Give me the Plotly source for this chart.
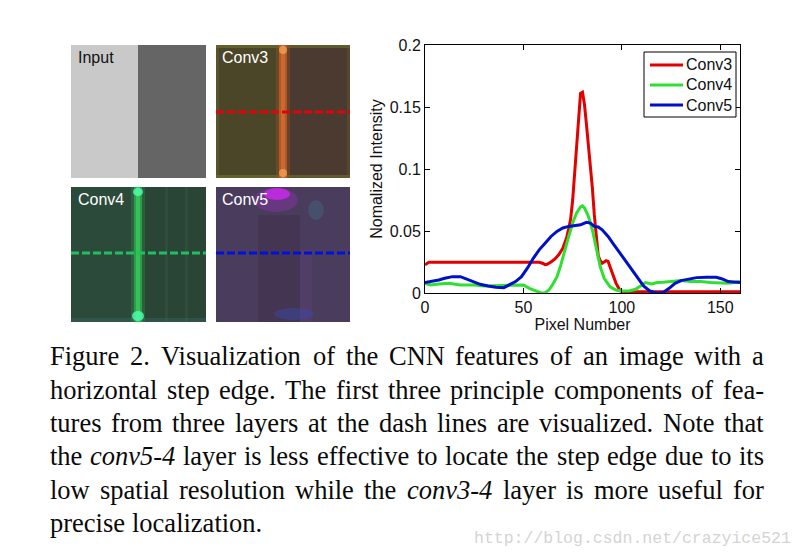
import plotly.graph_objects as go

W, H = 803, 560
OFF = 8  # page body margin

# ---------------- data ----------------
conv3_x = [0, 1, 2, 10, 20, 30, 40, 50, 55, 58, 60, 61, 62, 64, 66, 68, 70, 71, 72, 73, 74, 75, 76, 77, 78,
           79, 80, 81, 82, 83, 84, 85, 86, 87, 88, 89, 90, 91, 92, 93, 94, 95, 96, 97, 98, 99, 100,
           110, 120, 130, 140, 150, 160]
conv3_y = [0.0228, 0.024, 0.0248, 0.0248, 0.0248, 0.0248, 0.0248, 0.0248, 0.0248, 0.0248, 0.0238, 0.0228,
           0.0232, 0.025, 0.0275, 0.031, 0.036, 0.040, 0.045, 0.052, 0.060, 0.075, 0.098, 0.120, 0.145,
           0.161, 0.162, 0.152, 0.136, 0.120, 0.106, 0.085, 0.063, 0.043, 0.030, 0.026, 0.024, 0.025,
           0.026, 0.0255, 0.021, 0.016, 0.012, 0.008, 0.005, 0.002, 0.001,
           0.001, 0.001, 0.001, 0.001, 0.001, 0.001]

conv4_x = [0, 3, 7, 12, 18, 25, 30, 35, 40, 45, 50, 53, 56, 59, 61, 63, 65, 67, 69, 71, 73, 75, 77, 79,
           80, 81, 83, 85, 87, 89, 91, 94, 97, 100, 104, 107, 110, 112, 115, 118, 121, 125, 130, 135,
           140, 145, 150, 154, 157, 160]
conv4_y = [0.0078, 0.0065, 0.0073, 0.0078, 0.0065, 0.0065, 0.0057, 0.006, 0.006, 0.006, 0.0065, 0.0038,
           0.0016, 0.0, 0.0003, 0.0024, 0.0073, 0.013, 0.0227, 0.035, 0.0456, 0.0564, 0.0645, 0.0694,
           0.0702, 0.0686, 0.0618, 0.051, 0.035, 0.0213, 0.0119, 0.005, 0.0024, 0.0016, 0.0019, 0.003,
           0.0062, 0.0084, 0.0073, 0.0084, 0.0086, 0.0092, 0.010, 0.0092, 0.0092, 0.0084, 0.0078,
           0.0078, 0.0084, 0.0092]

conv5_x = [0, 3, 7, 10, 14, 18, 20, 24, 28, 32, 36, 40, 43, 46, 49, 52, 55, 58, 61, 64, 67, 70, 73, 76,
           79, 82, 84, 86, 88, 90, 93, 96, 99, 102, 105, 108, 111, 114, 117, 119, 121, 124, 127, 130,
           134, 138, 143, 148, 151, 154, 157, 160]
conv5_y = [0.0084, 0.0092, 0.0105, 0.0119, 0.0132, 0.0132, 0.0119, 0.0092, 0.007, 0.0057, 0.0046, 0.0043,
           0.0065, 0.0092, 0.0132, 0.020, 0.028, 0.0348, 0.0402, 0.0456, 0.0497, 0.0524, 0.0537, 0.0545,
           0.055, 0.057, 0.0564, 0.0537, 0.0532, 0.051, 0.0456, 0.0389, 0.0321, 0.0254, 0.0186, 0.0119,
           0.0057, 0.0019, 0.0, 0.0, 0.0005, 0.0038, 0.0078, 0.010, 0.0113, 0.0124, 0.0127, 0.0127,
           0.0113, 0.0092, 0.0088, 0.0084]

series_names = ["Conv3", "Conv4", "Conv5"]
series_colors = ["#e30000", "#30e030", "#0010c8"]

x_ticks = [0, 50, 100, 150]
y_ticks = [0, 0.05, 0.1, 0.15, 0.2]
y_tick_text = ["0", "0.05", "0.1", "0.15", "0.2"]

panel_labels = ["Input", "Conv3", "Conv4", "Conv5"]

caption_lines = [
    [("Figure", 0), ("2.", 0), ("Visualization", 0), ("of", 0), ("the", 0), ("CNN", 0), ("features", 0),
     ("of", 0), ("an", 0), ("image", 0), ("with", 0), ("a", 0)],
    [("horizontal", 0), ("step", 0), ("edge.", 0), ("The", 0), ("first", 0), ("three", 0), ("principle", 0),
     ("components", 0), ("of", 0), ("fea-", 0)],
    [("tures", 0), ("from", 0), ("three", 0), ("layers", 0), ("at", 0), ("the", 0), ("dash", 0), ("lines", 0),
     ("are", 0), ("visualized.", 0), ("Note", 0), ("that", 0)],
    [("the", 0), ("conv5-4", 1), ("layer", 0), ("is", 0), ("less", 0), ("effective", 0), ("to", 0),
     ("locate", 0), ("the", 0), ("step", 0), ("edge", 0), ("due", 0), ("to", 0), ("its", 0)],
    [("low", 0), ("spatial", 0), ("resolution", 0), ("while", 0), ("the", 0), ("conv3-4", 1), ("layer", 0),
     ("is", 0), ("more", 0), ("useful", 0), ("for", 0)],
    [("precise", 0), ("localization.", 0)],
]
watermark = "http://blog.csdn.net/crazyice521"

# ---------------- helpers (screen pixel -> paper) ----------------
def X(p):
    return (p - OFF) / W

def Y(p):
    return 1 - (p - OFF) / H

ROMAN = {' ': 250, '.': 250, ',': 250, '-': 333, '2': 500, '3': 500, '4': 500, '5': 500,
         'A': 722, 'C': 667, 'N': 722, 'F': 556, 'T': 611, 'V': 722,
         'a': 444, 'b': 500, 'c': 444, 'd': 500, 'e': 444, 'f': 333, 'g': 500, 'h': 500, 'i': 278,
         'j': 278, 'k': 500, 'l': 278, 'm': 778, 'n': 500, 'o': 500, 'p': 500, 'q': 500, 'r': 333,
         's': 389, 't': 278, 'u': 500, 'v': 500, 'w': 722, 'x': 500, 'y': 500, 'z': 444}
ITALIC = dict(ROMAN)
ITALIC.update({'a': 500, 'c': 444, 'f': 278, 'k': 444, 'm': 722, 'r': 389, 'v': 444, 'w': 667,
               'x': 444, 'y': 444, 'z': 389})

def word_width(w, italic, fs):
    table = ITALIC if italic else ROMAN
    return sum(table.get(ch, 500) for ch in w) / 1000.0 * fs

fig = go.Figure()

for xs, ys, name, col in zip([conv3_x, conv4_x, conv5_x], [conv3_y, conv4_y, conv5_y],
                             series_names, series_colors):
    fig.add_trace(go.Scatter(x=xs, y=ys, mode="lines", name=name, showlegend=False,
                             line=dict(color=col, width=3), hoverinfo="skip"))

shapes = []
annotations = []
SANS = "Liberation Sans, Arial"

def rect(x0, y0, x1, y1, color, opacity=1.0, layer="below", border=None):
    shapes.append(dict(type="rect", xref="paper", yref="paper", x0=X(x0), x1=X(x1), y0=Y(y1), y1=Y(y0),
                       fillcolor=color, opacity=opacity,
                       line=dict(width=1, color=border) if border else dict(width=0), layer=layer))

def ellipse(cx, cy, rx, ry, color, opacity=1.0):
    shapes.append(dict(type="circle", xref="paper", yref="paper", x0=X(cx - rx), x1=X(cx + rx),
                       y0=Y(cy + ry), y1=Y(cy - ry), fillcolor=color, opacity=opacity,
                       line=dict(width=0), layer="below"))

def hline(x0, x1, y, color, width=3, dashstyle="solid"):
    shapes.append(dict(type="line", xref="paper", yref="paper", x0=X(x0), x1=X(x1), y0=Y(y), y1=Y(y),
                       line=dict(color=color, width=width, dash=dashstyle), layer="above"))

def text(t, x, y, size, color, family=SANS, xanchor="left"):
    annotations.append(dict(text=t, x=X(x), y=Y(y), xref="paper", yref="paper", xanchor=xanchor,
                            yanchor="middle", showarrow=False,
                            font=dict(family=family, size=size, color=color)))

# Input panel
rect(71, 45, 138, 178, "#c9c9c9")
rect(138, 45, 206, 178, "#656565")

# Conv3 panel
rect(216, 45, 350, 178, "#4c4628")
rect(287, 45, 350, 178, "#4a3a2f")
rect(216, 45, 350, 48, "#7a7a30", 0.5)
rect(216, 175, 350, 178, "#7a7a30", 0.5)
rect(216, 45, 219, 178, "#6a6a30", 0.4)
rect(347, 45, 350, 178, "#6a5a30", 0.4)
rect(276, 45, 290, 178, "#9a5028", 0.4)
rect(279, 45, 287, 178, "#c0602a", 0.75)
rect(281, 45, 285, 178, "#d86a2e", 0.85)
ellipse(283, 50, 4, 4, "#f0a050", 0.8)
ellipse(283, 173, 4, 4, "#f0a050", 0.8)
hline(216, 350, 112, "#e8000a", 3, "8px,3px")

# Conv4 panel
rect(71, 187, 206, 322, "#2c4a3a")
rect(142, 187, 206, 322, "#2a4436")
rect(165, 187, 168, 322, "#33543f", 0.6)
rect(185, 187, 188, 322, "#33543f", 0.6)
rect(71, 318, 206, 322, "#3a6a6a", 0.4)
rect(131, 187, 145, 322, "#2a8a4a", 0.4)
rect(134, 187, 142, 322, "#2fb050", 0.75)
rect(136, 187, 140, 322, "#38c858", 0.85)
ellipse(138, 192, 5, 4, "#50ffb0", 0.8)
ellipse(138, 316, 6, 5, "#50ffb0", 0.8)
hline(71, 206, 253, "#20c060", 3, "8px,3px")

# Conv5 panel
rect(216, 187, 350, 322, "#4a3c5c")
rect(258, 215, 300, 322, "#38283c", 0.3)
rect(300, 250, 312, 322, "#6a3c8a", 0.25)
ellipse(276, 200, 22, 12, "#9a30c0", 0.35)
ellipse(277, 194, 13, 6, "#d028f0", 0.8)
ellipse(316, 210, 8, 10, "#3a8a9a", 0.25)
ellipse(294, 314, 20, 6, "#3a4ab0", 0.45)
hline(216, 350, 253, "#0010e0", 3, "8px,3px")

# Panel labels
for lab, (lx, ly), col in zip(panel_labels, [(76, 57), (220, 57), (76, 199), (220, 199)],
                              ["#111111", "white", "white", "white"]):
    text(lab, lx, ly, 16, col)

# Legend (drawn manually to match box size)
rect(644, 52, 736, 117, "white", 1.0, layer="above", border="black")
for i, (name, col) in enumerate(zip(series_names, series_colors)):
    yy = 65 + 20 * i
    hline(650, 683, yy, col, 3)
    text(name, 684, yy, 16, "#111111")

# Caption (justified)
FS = 26.5
left, right = 48, 762
baselines = [365, 398.3, 431.7, 465, 498.3, 531.6]
for i, (words, base) in enumerate(zip(caption_lines, baselines)):
    widths = [word_width(w, it, FS) for w, it in words]
    if i < len(caption_lines) - 1 and len(words) > 1:
        gap = (right - left - sum(widths)) / (len(words) - 1)
    else:
        gap = 0.25 * FS
    xpos = left
    for (w, it), wd in zip(words, widths):
        text("<i>%s</i>" % w if it else w, xpos, base - 0.33 * FS, FS, "#0a0a0a",
             family="Liberation Serif, Times New Roman")
        xpos += wd + gap

text(watermark, 472, 538, 16.5, "#d4d4d4", family="Liberation Mono, Courier New")

axis_font = dict(family=SANS, size=16, color="#111111")
fig.update_layout(
    width=W, height=H,
    margin=dict(l=0, r=0, t=0, b=0, autoexpand=False),
    paper_bgcolor="white", plot_bgcolor="white",
    shapes=shapes, annotations=annotations,
    showlegend=False,
    xaxis=dict(domain=[X(425), X(740)], range=[0, 160], tickvals=x_ticks,
               ticks="inside", ticklen=5, tickcolor="black", showline=True, linecolor="black",
               linewidth=1, mirror="ticks", showgrid=False, zeroline=False, tickfont=axis_font,
               title=dict(text="Pixel Number", standoff=1, font=axis_font)),
    yaxis=dict(domain=[Y(293), Y(45)], range=[0, 0.2], tickvals=y_ticks, ticktext=y_tick_text,
               ticks="inside", ticklen=5, tickcolor="black", showline=True, linecolor="black",
               linewidth=1, mirror="ticks", showgrid=False, zeroline=False, tickfont=axis_font,
               title=dict(text="Nomalized Intensity", standoff=3, font=axis_font)),
)

fig.write_html("out.html")
